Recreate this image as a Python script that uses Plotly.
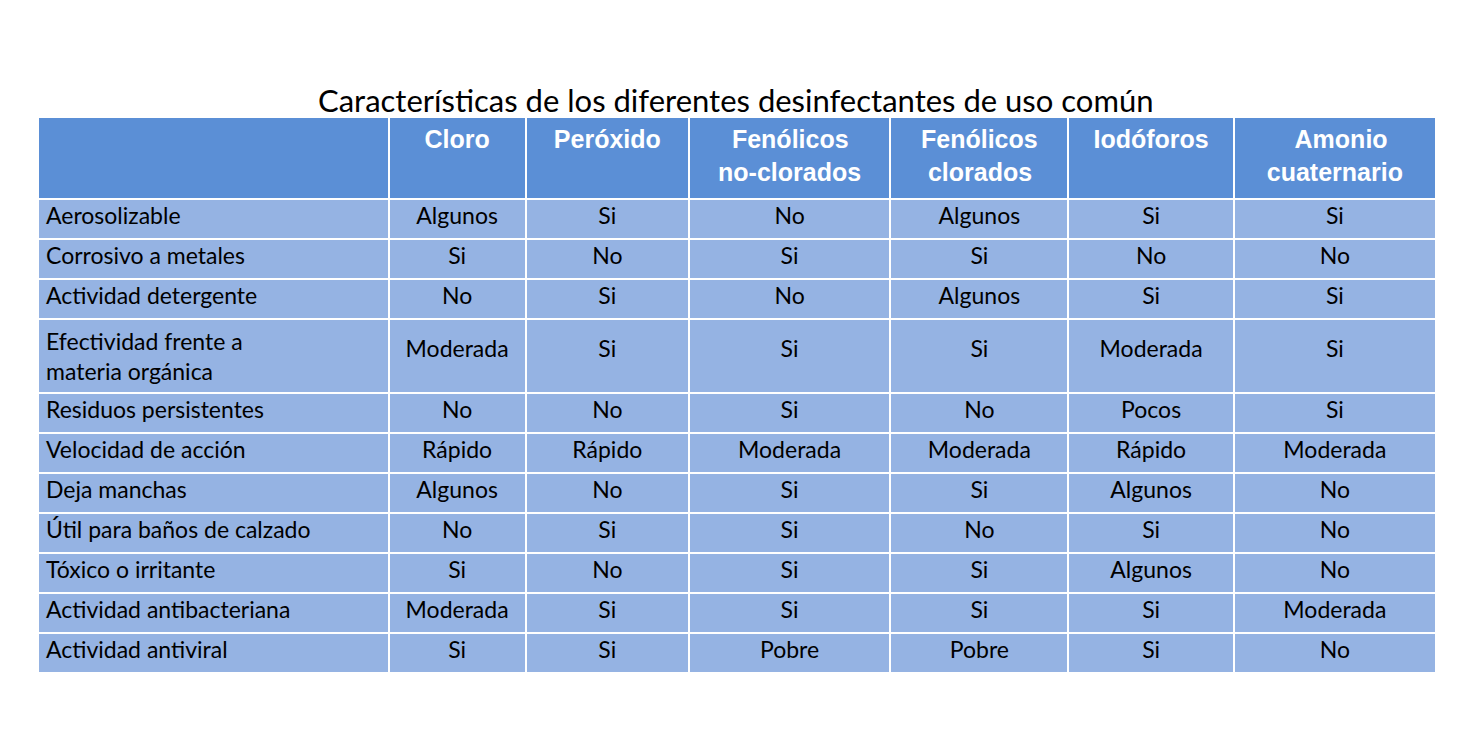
import plotly.graph_objects as go

SP = "<span style='font-size:13px'><br></span>"
headers = ["", SP + "<b>Cloro</b>", SP + "<b>Peróxido</b>",
           "<b>&nbsp;&nbsp;Fenólicos<br>no-clorados</b>", "<b>Fenólicos<br>&nbsp;clorados</b>",
           SP + "<b>Iodóforos</b>", "<b>&nbsp;&nbsp;&nbsp;&nbsp;Amonio<br>cuaternario</b>"]
properties = ["Aerosolizable", "Corrosivo a metales", "Actividad detergente", "Efectividad frente a<br>materia orgánica",
              "Residuos persistentes", "Velocidad de acción", "Deja manchas", "Útil para baños de calzado",
              "Tóxico o irritante", "Actividad antibacteriana", "Actividad antiviral"]
cloro = ["Algunos", "Si", "No", "Moderada", "No", "Rápido", "Algunos", "No", "Si", "Moderada", "Si"]
peroxido = ["Si", "No", "Si", "Si", "No", "Rápido", "No", "Si", "No", "Si", "Si"]
fen_no_clor = ["No", "Si", "No", "Si", "Si", "Moderada", "Si", "Si", "Si", "Si", "Pobre"]
fen_clor = ["Algunos", "Si", "Algunos", "Si", "No", "Moderada", "Si", "No", "Si", "Si", "Pobre"]
iodoforos = ["Si", "No", "Si", "Moderada", "Pocos", "Rápido", "Algunos", "Si", "Algunos", "Si", "Si"]
amonio = ["Si", "No", "Si", "Si", "Si", "Moderada", "No", "No", "No", "Moderada", "No"]

def mid(col):
    # vertically centre the single-line entries of the two-line row
    return [SP + v if i == 3 else v for i, v in enumerate(col)]

W, H = 1470, 742
widths = [350, 137, 163, 201, 178, 165, 202]

fig = go.Figure(go.Table(
    domain=dict(x=[30 / W, 1428 / W], y=[1 - 690 / H, 1 - 109 / H]),
    columnwidth=widths,
    header=dict(values=headers, fill_color="#5B8FD6", line=dict(color="white", width=2),
                font=dict(family="Liberation Sans, Arial", size=25, color="white"),
                align="center", height=82),
    cells=dict(values=[properties] + [mid(c) for c in [cloro, peroxido, fen_no_clor, fen_clor, iodoforos, amonio]],
               fill_color="#95B3E3", line=dict(color="white", width=2),
               font=dict(family="Lato, Open Sans", size=23, color="black"),
               align=["left"] + ["center"] * 6, height=40),
))
fig.add_annotation(text="Características de los diferentes desinfectantes de uso común",
                   x=0.495, y=1 - 92 / H, xref="paper", yref="paper", yanchor="middle", showarrow=False,
                   font=dict(family="Lato, Open Sans", size=31, color="black"))
fig.update_layout(width=W, height=H, margin=dict(l=0, r=0, t=0, b=0), paper_bgcolor="white")
fig.write_html("out.html")
